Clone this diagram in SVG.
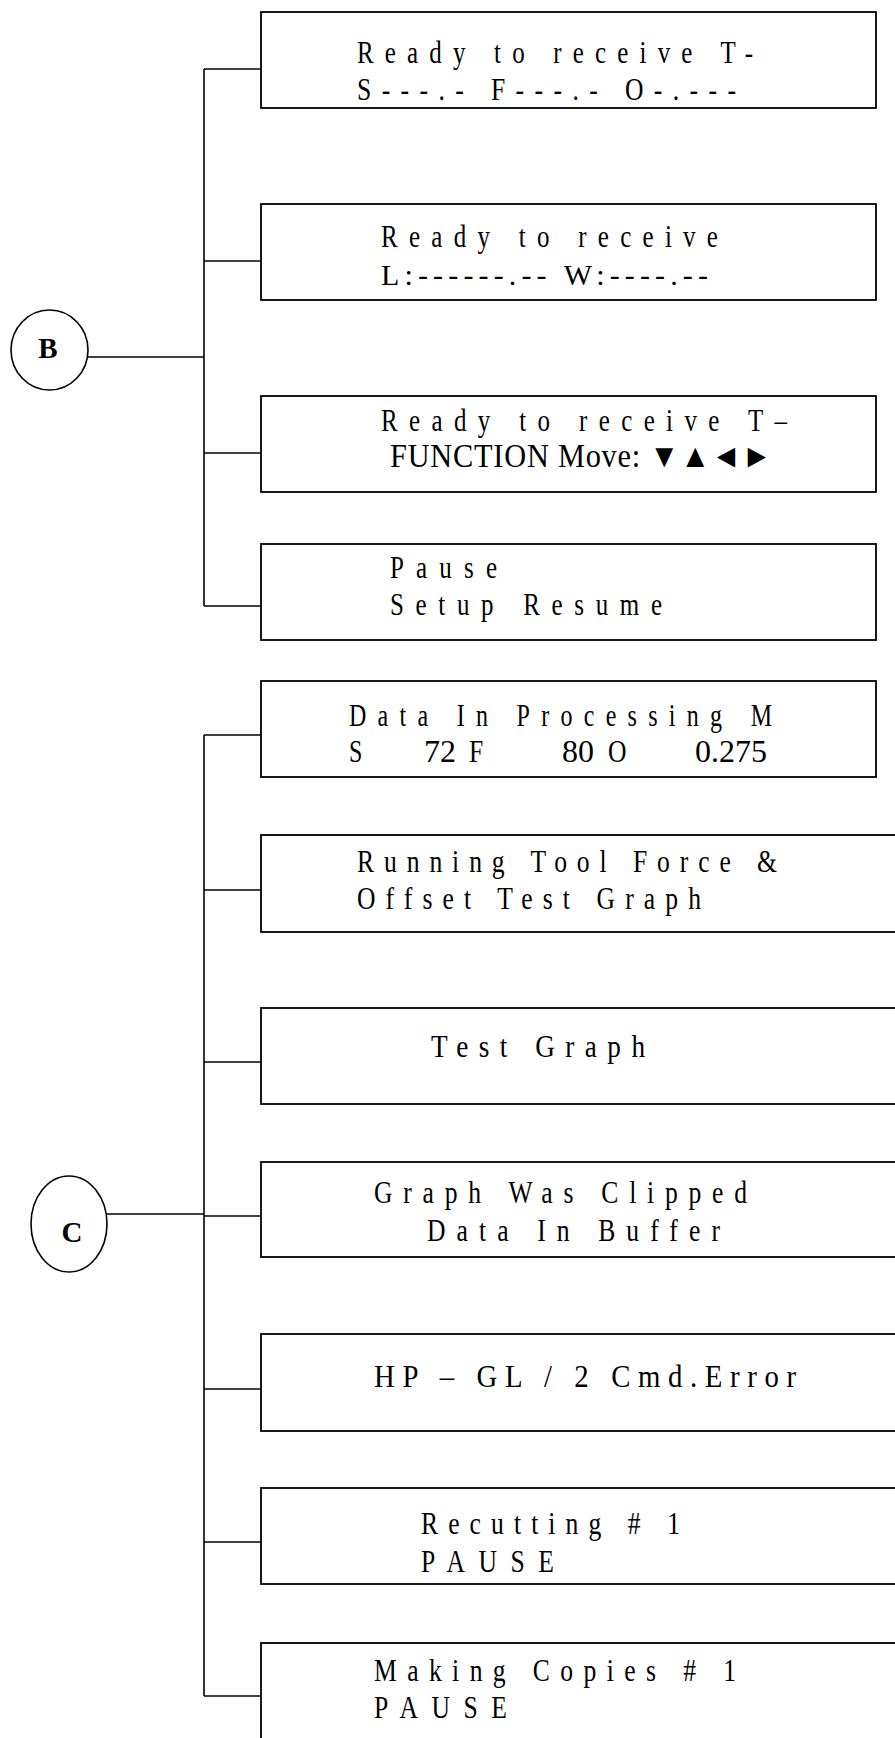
<svg xmlns="http://www.w3.org/2000/svg" width="895" height="1738" viewBox="0 0 895 1738">
<style>
.box{fill:#fff;stroke:#000;stroke-width:1.8}
.ln{stroke:#000;stroke-width:1.6;fill:none}
.t{font-family:"Liberation Serif","Times New Roman",serif;font-size:32px;fill:#000}
.c{font-family:"Liberation Serif","Times New Roman",serif;font-size:29px;font-weight:bold;fill:#000;text-anchor:middle}
.circ{fill:#fff;stroke:#000;stroke-width:1.6}
</style>
<rect width="895" height="1738" fill="#fff"/>
<g id="connectors">
<line class="ln" x1="204" y1="69" x2="204" y2="606"/>
<line class="ln" x1="88" y1="357" x2="204" y2="357"/>
<line class="ln" x1="204" y1="69" x2="261" y2="69"/>
<line class="ln" x1="204" y1="261" x2="261" y2="261"/>
<line class="ln" x1="204" y1="453" x2="261" y2="453"/>
<line class="ln" x1="204" y1="606" x2="261" y2="606"/>
<line class="ln" x1="204" y1="735" x2="204" y2="1696"/>
<line class="ln" x1="107" y1="1214" x2="204" y2="1214"/>
<line class="ln" x1="204" y1="735" x2="261" y2="735"/>
<line class="ln" x1="204" y1="890" x2="261" y2="890"/>
<line class="ln" x1="204" y1="1062" x2="261" y2="1062"/>
<line class="ln" x1="204" y1="1216" x2="261" y2="1216"/>
<line class="ln" x1="204" y1="1389" x2="261" y2="1389"/>
<line class="ln" x1="204" y1="1542" x2="261" y2="1542"/>
<line class="ln" x1="204" y1="1696" x2="261" y2="1696"/>
</g>
<g id="nodeB">
<ellipse class="circ" cx="49.5" cy="350" rx="38.5" ry="40"/>
<text class="c" x="48" y="358">B</text>
</g>
<g id="nodeC">
<ellipse class="circ" cx="69" cy="1224" rx="38" ry="48"/>
<text class="c" x="72" y="1242">C</text>
</g>
<g id="b1">
<rect class="box" x="261" y="12" width="615" height="96"/>
<text class="t" transform="translate(357 63) scale(0.78 1)" textLength="507.7" lengthAdjust="spacing">Ready to receive T-</text>
<text class="t" transform="translate(357 100) scale(0.8 1)" textLength="473.7" lengthAdjust="spacing">S---.- F---.- O-.---</text>
</g>
<g id="b2">
<rect class="box" x="261" y="204" width="615" height="96"/>
<text class="t" transform="translate(381 247) scale(0.78 1)" textLength="432" lengthAdjust="spacing">Ready to receive</text>
<text class="t" x="381" y="285" style="font-size:30px" textLength="327" lengthAdjust="spacing">L:------.-- W:----.--</text>
</g>
<g id="b3">
<rect class="box" x="261" y="396" width="615" height="96"/>
<text class="t" transform="translate(381 431) scale(0.78 1)" textLength="520.5" lengthAdjust="spacing">Ready to receive T–</text>
<text class="t" transform="translate(390 467) scale(0.92 1)" style="font-size:33px" textLength="415" lengthAdjust="spacing">FUNCTION Move: ▼▲◄►</text>
</g>
<g id="b4">
<rect class="box" x="261" y="544" width="615" height="96"/>
<text class="t" transform="translate(390 578) scale(0.78 1)" textLength="137.2" lengthAdjust="spacing">Pause</text>
<text class="t" transform="translate(390 615) scale(0.78 1)" textLength="348.7" lengthAdjust="spacing">Setup Resume</text>
</g>
<g id="c1">
<rect class="box" x="261" y="681" width="615" height="96"/>
<text class="t" transform="translate(349 726) scale(0.75 1)" textLength="564" lengthAdjust="spacing">Data In Processing M</text>
<text class="t" transform="translate(349 762) scale(0.75 1)">S</text>
<text class="t" x="424" y="762">72</text>
<text class="t" transform="translate(469 762) scale(0.8 1)">F</text>
<text class="t" x="562" y="762">80</text>
<text class="t" transform="translate(608 762) scale(0.8 1)">O</text>
<text class="t" x="695" y="762">0.275</text>
</g>
<g id="c2">
<rect class="box" x="261" y="835" width="640" height="97"/>
<text class="t" transform="translate(357 872) scale(0.8 1)" textLength="525" lengthAdjust="spacing">Running Tool Force &amp;</text>
<text class="t" transform="translate(357 909) scale(0.8 1)" textLength="430" lengthAdjust="spacing">Offset Test Graph</text>
</g>
<g id="c3">
<rect class="box" x="261" y="1008" width="640" height="96"/>
<text class="t" transform="translate(431 1057) scale(0.85 1)" textLength="251.8" lengthAdjust="spacing">Test Graph</text>
</g>
<g id="c4">
<rect class="box" x="261" y="1162" width="640" height="95"/>
<text class="t" transform="translate(374 1203) scale(0.8 1)" textLength="466.2" lengthAdjust="spacing">Graph Was Clipped</text>
<text class="t" transform="translate(427 1241) scale(0.8 1)" textLength="366.2" lengthAdjust="spacing">Data In Buffer</text>
</g>
<g id="c5">
<rect class="box" x="261" y="1334" width="640" height="97"/>
<text class="t" transform="translate(374 1387) scale(0.9 1)" textLength="468.9" lengthAdjust="spacing">HP – GL / 2 Cmd.Error</text>
</g>
<g id="c6">
<rect class="box" x="261" y="1488" width="640" height="96"/>
<text class="t" transform="translate(421 1534) scale(0.8 1)" textLength="323.7" lengthAdjust="spacing">Recutting # 1</text>
<text class="t" transform="translate(421 1572) scale(0.8 1)" textLength="166.2" lengthAdjust="spacing">PAUSE</text>
</g>
<g id="c7">
<rect class="box" x="261" y="1643" width="640" height="120"/>
<text class="t" transform="translate(374 1681) scale(0.8 1)" textLength="452.5" lengthAdjust="spacing">Making Copies # 1</text>
<text class="t" transform="translate(374 1718) scale(0.8 1)" textLength="166.2" lengthAdjust="spacing">PAUSE</text>
</g>
</svg>
